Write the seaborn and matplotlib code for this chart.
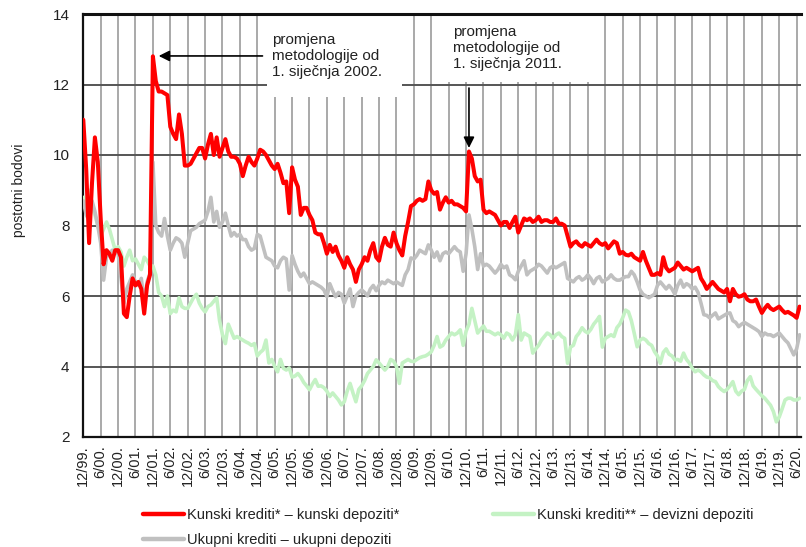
import numpy as np
import pandas as pd
import matplotlib
matplotlib.use("Agg")
import matplotlib.pyplot as plt
import seaborn as sns
from matplotlib.patches import Rectangle

# Monthly values, starting 12/1999 (one row = half a year)
kunski_kunski = [
    11.0, 9.6, 7.5, 9.2, 10.5, 9.8,
    8.2, 6.9, 7.3, 7.2, 7.0, 7.3,
    7.3, 7.1, 5.5, 5.4, 6.0, 6.5,
    6.3, 6.4, 6.2, 5.5, 6.3, 6.6,
    12.8, 12.1, 11.8, 11.8, 11.75, 11.7,
    10.8, 10.6, 10.45, 11.15, 10.6, 9.7,
    9.7, 9.75, 9.9, 10.05, 10.2, 10.2,
    9.9, 10.3, 10.6, 10.0, 10.5, 9.95,
    10.2, 10.45, 10.1, 9.95, 9.95, 9.9,
    9.75, 9.4, 9.7, 9.95, 9.8, 9.7,
    9.9, 10.15, 10.1, 10.0, 9.85, 9.7,
    9.6, 9.75, 9.5, 9.2, 9.25, 8.35,
    9.65, 9.3, 9.1, 8.3, 8.5, 8.5,
    8.3, 8.15, 7.8, 7.75, 7.75, 7.5,
    7.2, 7.45, 7.25, 7.4, 7.15, 7.0,
    6.8, 7.1, 6.9, 6.75, 6.4, 6.75,
    6.9, 7.1, 7.0, 7.3, 7.5, 7.1,
    7.0, 7.4, 7.65, 7.45, 7.4, 7.8,
    7.5, 7.3, 7.15, 7.7, 8.1, 8.55,
    8.6, 8.7, 8.75, 8.7, 8.75, 9.25,
    9.0, 8.9, 8.95, 8.45, 8.65, 8.8,
    8.65, 8.7, 8.6, 8.6, 8.55, 8.5,
    8.4, 10.1, 9.9, 9.4, 9.25, 9.3,
    8.45, 8.35, 8.4, 8.35, 8.3, 8.15,
    8.0, 8.1, 8.1, 7.93, 8.1, 8.25,
    7.8, 8.0, 8.2, 8.15, 8.2, 8.1,
    8.15, 8.25, 8.1, 8.15, 8.15, 8.1,
    8.1, 8.2, 8.05, 8.05, 8.0, 7.7,
    7.4, 7.5, 7.55, 7.45, 7.4, 7.5,
    7.45, 7.4, 7.5, 7.6, 7.5, 7.45,
    7.5, 7.35, 7.45, 7.55, 7.5, 7.2,
    7.25, 7.17, 7.15, 7.2, 7.1, 7.05,
    7.0, 7.25, 7.0, 6.8, 6.6, 6.6,
    6.65, 6.6, 7.1, 6.8, 6.7, 6.75,
    6.8, 6.95, 6.85, 6.75, 6.8, 6.75,
    6.7, 6.75, 6.8, 6.5, 6.37, 6.2,
    6.3, 6.4, 6.3, 6.2, 6.15, 6.1,
    6.2, 5.85, 6.2, 6.05, 5.98, 6.0,
    6.05, 5.9, 5.85, 5.85, 5.9, 5.7,
    5.52, 5.65, 5.75, 5.65, 5.6, 5.65,
    5.7, 5.6, 5.52, 5.55, 5.5, 5.45,
    5.38, 5.7,
]

ukupni_ukupni = [
    8.7, 8.3, 8.15, 8.7, 8.4, 8.0,
    7.5, 6.45, 7.1, 7.2, 7.3, 7.25,
    7.2, 6.5, 5.8, 6.2, 6.4, 6.6,
    6.4, 6.3, 6.5, 5.8, 6.4, 6.65,
    9.8, 8.0, 7.8, 7.7, 8.2, 7.7,
    7.3, 7.5, 7.65, 7.6, 7.5, 7.1,
    7.5, 7.85, 7.9, 7.95, 8.05, 8.1,
    8.15, 8.4, 8.8, 8.1, 8.4, 7.95,
    8.1, 8.35, 8.0, 7.7, 7.8, 7.7,
    7.75, 7.6, 7.6, 7.4, 7.3, 7.35,
    7.75, 7.7, 7.4, 7.1, 7.05, 7.0,
    6.85, 6.8, 7.0, 7.1, 7.05, 6.17,
    7.15, 6.9, 6.7, 6.55, 6.65, 6.5,
    6.35, 6.4, 6.35, 6.3, 6.25, 6.17,
    5.98, 6.35, 6.15, 5.98, 6.1, 6.05,
    5.8, 6.0, 6.2, 5.7, 6.0, 6.1,
    6.17, 6.1, 6.0, 6.2, 6.3, 6.15,
    6.3, 6.4, 6.35, 6.45, 6.4, 6.35,
    6.4, 6.35, 6.3, 6.6, 6.75, 7.08,
    7.05, 7.15, 7.3, 7.25, 7.2, 7.45,
    7.3, 7.1, 7.25, 7.0, 7.2, 7.25,
    7.2, 7.3, 7.4, 7.3, 7.25, 6.7,
    7.2, 8.3, 7.9, 7.4, 6.75, 7.2,
    6.85, 6.9, 6.85, 6.75, 6.65, 6.75,
    6.9, 6.8, 6.85, 6.6, 6.55, 6.46,
    6.7, 6.85, 7.0, 6.6, 6.7, 6.75,
    6.8, 6.9, 6.85, 6.75, 6.65, 6.8,
    6.85, 6.8, 6.85, 6.9, 6.95, 6.5,
    6.45, 6.4, 6.5, 6.55, 6.45, 6.5,
    6.6, 6.5, 6.35, 6.5, 6.55, 6.4,
    6.45, 6.5, 6.6, 6.5, 6.45, 6.45,
    6.5, 6.55, 6.55, 6.7, 6.6, 6.4,
    6.17, 6.05, 6.0, 5.95, 6.0, 6.05,
    6.3, 6.4, 6.3, 6.2, 6.3, 6.2,
    6.05, 6.3, 6.45, 6.25, 6.35, 6.3,
    6.2, 6.25, 6.1, 5.8, 5.47, 5.45,
    5.38, 5.45, 5.52, 5.35, 5.4, 5.45,
    5.5, 5.52, 5.3, 5.25, 5.13, 5.2,
    5.25, 5.2, 5.15, 5.1, 5.05, 4.99,
    4.85, 4.95, 4.9, 4.9, 4.85, 4.9,
    4.95, 4.85, 4.75, 4.67, 4.5, 4.33,
    4.5, 4.9,
]

kunski_devizni = [
    8.8, 8.6, 9.0, 8.5, 8.3, 8.0,
    7.7, 7.9, 8.1, 7.9, 7.6, 7.3,
    7.4, 7.25, 6.85, 7.1, 7.3, 7.0,
    7.05, 6.9, 6.75, 7.1, 7.0, 6.85,
    6.85, 6.6, 6.1, 6.0, 5.7, 6.0,
    5.5, 5.6, 5.55, 5.95, 5.7, 5.65,
    5.65, 5.8, 5.95, 6.05, 5.8, 5.65,
    5.55, 5.7, 5.75, 5.85, 5.95, 5.3,
    4.9, 4.65, 5.2, 5.0, 4.8, 4.85,
    4.8, 4.75, 4.7, 4.66, 4.6, 4.65,
    4.3, 4.4, 4.47, 4.75, 4.1, 4.2,
    4.0, 3.85, 4.2, 3.95, 3.9, 3.96,
    3.7, 3.73, 3.8, 3.7, 3.55, 3.45,
    3.34, 3.5, 3.63, 3.44, 3.45, 3.4,
    3.3, 3.15, 3.25, 3.15, 3.05, 2.91,
    3.0, 3.3, 3.52, 3.25, 3.0, 3.35,
    3.45, 3.6, 3.8, 3.9, 4.0, 4.19,
    4.1, 4.0, 3.9, 4.0, 4.2, 4.15,
    4.0, 3.52, 4.1, 4.15, 4.2, 4.15,
    4.14, 4.2, 4.25, 4.28, 4.3, 4.35,
    4.42, 4.6, 4.85, 4.55, 4.6, 4.75,
    4.85, 4.95, 4.9, 4.95, 5.04, 4.6,
    5.0, 5.2, 5.65, 5.3, 4.95, 5.05,
    5.15, 5.0, 5.0, 4.95, 4.9, 4.95,
    4.9, 4.8, 4.95, 4.9, 4.75, 4.9,
    5.47, 4.75, 4.95, 4.9, 4.85, 4.38,
    4.5, 4.6, 4.75, 4.85, 4.95, 4.9,
    4.8, 4.9, 4.95, 4.85, 4.8, 4.09,
    4.55, 4.6, 4.85, 4.95, 5.1, 5.0,
    4.95, 5.05, 5.2, 5.3, 5.42, 4.55,
    4.8, 4.85, 4.9, 4.85, 5.1, 5.2,
    5.38, 5.6, 5.55, 5.3, 4.94, 4.56,
    4.75, 4.8, 4.75, 4.65, 4.6, 4.42,
    4.3, 4.09, 4.4, 4.5, 4.35, 4.3,
    4.19, 4.2, 4.15, 4.38, 4.2, 4.1,
    3.95, 3.85, 3.9, 3.85, 3.76, 3.7,
    3.68, 3.6, 3.57, 3.43, 3.35, 3.29,
    3.35, 3.45, 3.57, 3.3, 3.2, 3.3,
    3.35, 3.6, 3.71, 3.45, 3.35, 3.26,
    3.17, 3.1, 3.0, 2.9, 2.72, 2.43,
    2.57, 2.8, 3.05, 3.1, 3.1, 3.05,
    3.05, 3.1,
]

tick_labels = [
    "12/99.", "6/00.", "12/00.", "6/01.", "12/01.", "6/02.", "12/02.", "6/03.",
    "12/03.", "6/04.", "12/04.", "6/05.", "12/05.", "6/06.", "12/06.", "6/07.",
    "12/07.", "6/08.", "12/08.", "6/09.", "12/09.", "6/10.", "12/10.", "6/11.",
    "12/11.", "6/12.", "12/12.", "6/13.", "12/13.", "6/14.", "12/14.", "6/15.",
    "12/15.", "6/16.", "12/16.", "6/17.", "12/17.", "6/18.", "12/18.", "6/19.",
    "12/19.", "6/20.",
]
y_ticks = [2, 4, 6, 8, 10, 12, 14]

series_names = [
    "Kunski krediti* – kunski depoziti*",
    "Ukupni krediti – ukupni depoziti",
    "Kunski krediti** – devizni depoziti",
]
note_2002 = "promjena\nmetodologije od\n1. siječnja 2002."
note_2011 = "promjena\nmetodologije od\n1. siječnja 2011."

sns.set_theme(style="white")
plt.rcParams['font.family'] = ['Liberation Sans', 'DejaVu Sans']

W, H = 806, 547
X0, X1 = 83.3, 801.0
fig = plt.figure(figsize=(W / 100, H / 100), dpi=100)
ax = fig.add_axes([X0 / W, 1 - 437 / H, (X1 - X0) / W, (437 - 14) / H])

df_red = pd.DataFrame({"m": np.arange(len(kunski_kunski)), "v": kunski_kunski})
df_gray = pd.DataFrame({"m": np.arange(len(ukupni_ukupni)), "v": ukupni_ukupni})
df_green = pd.DataFrame({"m": np.arange(len(kunski_devizni)), "v": kunski_devizni})

sns.lineplot(data=df_green, x="m", y="v", color="#c4f2c4", lw=2.6, ax=ax,
             label=series_names[2], zorder=3)
sns.lineplot(data=df_gray, x="m", y="v", color="#c0c0c0", lw=2.6, ax=ax,
             label=series_names[1], zorder=4)
sns.lineplot(data=df_red, x="m", y="v", color="#ff0000", lw=2.9, ax=ax,
             label=series_names[0], zorder=5)
handles, labels = ax.get_legend_handles_labels()
ax.get_legend().remove()
hmap = dict(zip(labels, handles))

ax.set_xlim(0, 247.5)
ax.set_ylim(2, 14)
ax.set_yticks(y_ticks)
ax.set_yticklabels([str(t) for t in y_ticks], fontsize=11, color="#222222")
xt = np.arange(len(tick_labels)) * 6
ax.set_xticks(xt)
ax.set_xticklabels(tick_labels, rotation=90, fontsize=10.5, color="#222222",
                   va="top", ha="center")
ax.tick_params(axis="both", length=0)
ax.tick_params(axis="y", pad=10)
ax.tick_params(axis="x", pad=6)
ax.set_xlabel("")
ax.set_ylabel("")

ax.set_axisbelow(True)
ax.yaxis.grid(True, color="#555555", lw=1.4)
ax.xaxis.grid(True, color="#a3a3a3", lw=1.3)

for s in ["top", "left", "bottom"]:
    ax.spines[s].set_visible(True)
    ax.spines[s].set_color("#111111")
ax.spines["top"].set_linewidth(2.2)
ax.spines["left"].set_linewidth(1.6)
ax.spines["bottom"].set_linewidth(1.6)
ax.spines["right"].set_visible(False)

# white boxes behind annotations
ax.add_patch(Rectangle((63.2, 11.65), 109.8 - 63.2, 14 - 11.65,
                       facecolor="white", edgecolor="none", zorder=1.5))
ax.add_patch(Rectangle((122.8, 12.06), 174.5 - 122.8, 14 - 12.06,
                       facecolor="white", edgecolor="none", zorder=1.5))

ax.text(65.0, 13.45, note_2002, ha="left", va="top", fontsize=11,
        linespacing=1.15, color="#222222", zorder=6)
ax.text(127.5, 13.68, note_2011, ha="left", va="top", fontsize=11,
        linespacing=1.15, color="#222222", zorder=6)

ax.annotate("", xy=(26.0, 12.81), xytext=(61.8, 12.81),
            arrowprops=dict(arrowstyle="-|>", color="black", lw=1.2,
                            mutation_scale=16, shrinkA=0, shrinkB=0), zorder=6)
ax.annotate("", xy=(133.0, 10.2), xytext=(133.0, 11.9),
            arrowprops=dict(arrowstyle="-|>", color="black", lw=1.2,
                            mutation_scale=16, shrinkA=0, shrinkB=0), zorder=6)

fig.text(19 / W, 1 - 190 / H, "postotni bodovi", rotation=90, ha="center",
         va="center", fontsize=10, color="#222222")

leg_kw = dict(loc="upper left", frameon=False, fontsize=10.5, handlelength=2.8,
              handletextpad=0.25, labelspacing=0.75, borderpad=0,
              borderaxespad=0)
leg1 = fig.legend([hmap[series_names[0]], hmap[series_names[1]]],
                  series_names[:2], bbox_to_anchor=(143 / W, 1 - 508 / H), **leg_kw)
leg2 = fig.legend([hmap[series_names[2]]], series_names[2:],
                  bbox_to_anchor=(493 / W, 1 - 508 / H), **leg_kw)
for leg in (leg1, leg2):
    for line in leg.get_lines():
        line.set_linewidth(3.2)
    for t in leg.get_texts():
        t.set_color("#222222")

fig.savefig("out.png", dpi=100)
